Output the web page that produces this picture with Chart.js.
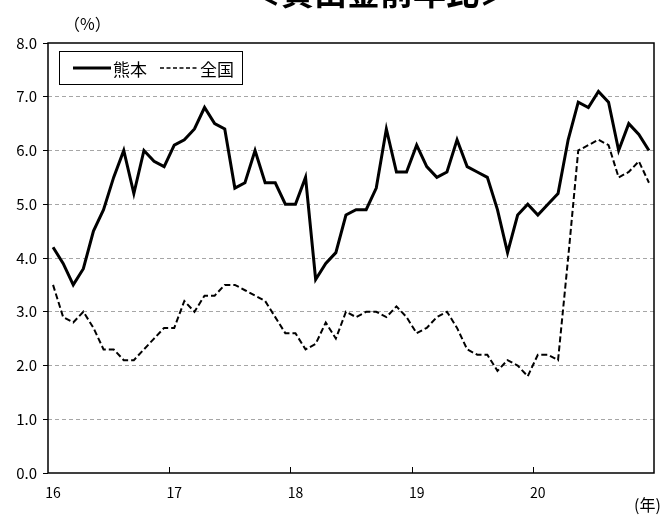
<!DOCTYPE html>
<html lang="ja">
<head>
  <meta charset="UTF-8" />
  <title>貸出金前年比</title>
  <script src="https://cdn.jsdelivr.net/npm/chart.js"></script>
  <style>
    body {
      margin: 0;
      background: #fff;
      font-family: 'Noto Sans CJK JP', sans-serif;
      color: #000;
    }
    .wrap {
      position: relative;
      width: 664px;
      height: 518px;
      overflow: hidden;
    }
    .title {
      position: absolute;
      left: 0;
      width: 760px;
      top: -25px;
      text-align: center;
      font-size: 33px;
      line-height: 33px;
      font-weight: bold;
      white-space: nowrap;
    }
    .unit {
      position: absolute;
      font-size: 16px;
      line-height: 16px;
      white-space: nowrap;
    }
    .legend {
      position: absolute;
      left: 59px;
      top: 51px;
      width: 182px;
      height: 32px;
      border: 1px solid #000;
      background: #fff;
      display: flex;
      align-items: center;
      font-size: 17px;
      line-height: 17px;
      white-space: nowrap;
    }
    .legend svg { display: block; flex: none; }
    .legend span { flex: none; }
  </style>
</head>
<body>
  <div class="wrap">
    <canvas id="chart" width="664" height="518"></canvas>
    <div class="title">＜貸出金前年比＞</div>
    <div class="unit" style="left:64px; top:15px;">（%）</div>
    <div class="unit" style="left:634px; top:496px;">(年)</div>
    <div class="legend">
      <svg width="53" height="10"><line x1="13" y1="5" x2="51" y2="5" stroke="#000" stroke-width="3"/></svg>
      <span id="lg0"></span>
      <svg width="53" height="10"><line x1="13" y1="5" x2="50" y2="5" stroke="#000" stroke-width="1.5" stroke-dasharray="4,2.5"/></svg>
      <span id="lg1"></span>
    </div>
  </div>

  <script>
    // 年（横軸の目盛り）
    const years = ["16", "17", "18", "19", "20"];
    const seriesNames = ["熊本", "全国"];

    // 熊本（前年比、%）
    const kumamoto = [
      4.2, 3.9, 3.5, 3.8, 4.5, 4.9, 5.5, 6.0, 5.2, 6.0, 5.8, 5.7,
      6.1, 6.2, 6.4, 6.8, 6.5, 6.4, 5.3, 5.4, 6.0, 5.4, 5.4, 5.0,
      5.0, 5.5, 3.6, 3.9, 4.1, 4.8, 4.9, 4.9, 5.3, 6.4, 5.6, 5.6,
      6.1, 5.7, 5.5, 5.6, 6.2, 5.7, 5.6, 5.5, 4.9, 4.1, 4.8, 5.0,
      4.8, 5.0, 5.2, 6.2, 6.9, 6.8, 7.1, 6.9, 6.0, 6.5, 6.3, 6.0
    ];

    // 全国（前年比、%）
    const zenkoku = [
      3.5, 2.9, 2.8, 3.0, 2.7, 2.3, 2.3, 2.1, 2.1, 2.3, 2.5, 2.7,
      2.7, 3.2, 3.0, 3.3, 3.3, 3.5, 3.5, 3.4, 3.3, 3.2, 2.9, 2.6,
      2.6, 2.3, 2.4, 2.8, 2.5, 3.0, 2.9, 3.0, 3.0, 2.9, 3.1, 2.9,
      2.6, 2.7, 2.9, 3.0, 2.7, 2.3, 2.2, 2.2, 1.9, 2.1, 2.0, 1.8,
      2.2, 2.2, 2.1, 4.0, 6.0, 6.1, 6.2, 6.1, 5.5, 5.6, 5.8, 5.4
    ];

    const yTicks = [0, 1, 2, 3, 4, 5, 6, 7, 8];

    // 月次のカテゴリ
    const months = [];
    years.forEach(y => {
      for (let m = 1; m <= 12; m++) months.push(y + "/" + m);
    });

    document.getElementById("lg0").textContent = seriesNames[0];
    document.getElementById("lg1").textContent = seriesNames[1];

    const font = "'Noto Sans CJK JP', sans-serif";

    // 枠線と年の区切り目盛り（内向き）
    const framePlugin = {
      id: "frame",
      afterDraw(chart) {
        const { ctx, chartArea: a, scales } = chart;
        const x = scales.x;
        ctx.save();
        ctx.strokeStyle = "#000";
        ctx.lineWidth = 1.5;
        ctx.strokeRect(a.left, a.top, a.right - a.left, a.bottom - a.top);
        ctx.lineWidth = 1;
        const half = (x.getPixelForValue(1) - x.getPixelForValue(0)) / 2;
        months.forEach((m, i) => {
          if (i > 0 && i % 12 === 0) {
            const px = Math.round(x.getPixelForValue(i) - half) + 0.5;
            ctx.beginPath();
            ctx.moveTo(px, a.bottom);
            ctx.lineTo(px, a.bottom - 6);
            ctx.stroke();
          }
        });
        ctx.restore();
      }
    };

    new Chart(document.getElementById("chart"), {
      type: "line",
      data: {
        labels: months,
        datasets: [
          {
            label: seriesNames[0],
            data: kumamoto,
            borderColor: "#000",
            borderWidth: 3,
            pointRadius: 0,
            tension: 0
          },
          {
            label: seriesNames[1],
            data: zenkoku,
            borderColor: "#000",
            borderWidth: 2,
            borderDash: [6, 3],
            pointRadius: 0,
            tension: 0
          }
        ]
      },
      options: {
        responsive: false,
        animation: false,
        layout: { padding: { left: 0, right: 10, top: 43, bottom: 0 } },
        plugins: {
          legend: { display: false },
          tooltip: { enabled: false }
        },
        scales: {
          x: {
            offset: true,
            grid: { display: false, drawTicks: false },
            border: { display: false },
            afterFit(s) { s.height = 45; },
            ticks: {
              autoSkip: false,
              maxRotation: 0,
              padding: 11,
              color: "#000",
              font: { family: font, size: 14 },
              callback(v, i) {
                const p = months[i].split("/");
                return p[1] === "1" ? p[0] : "";
              }
            }
          },
          y: {
            min: 0,
            max: 8,
            afterFit(s) { s.width = 48; },
            afterBuildTicks(s) { s.ticks = yTicks.map(v => ({ value: v })); },
            border: { display: false, dash: [4, 3] },
            grid: {
              color: c => (c.tick.value === 0 || c.tick.value === 8) ? "rgba(0,0,0,0)" : "#a6a6a6",
              tickColor: "#000",
              tickLength: 5,
              lineWidth: 1
            },
            ticks: {
              padding: 6,
              color: "#000",
              font: { family: font, size: 15 },
              callback: v => v.toFixed(1)
            }
          }
        }
      },
      plugins: [framePlugin]
    });
  </script>
</body>
</html>
